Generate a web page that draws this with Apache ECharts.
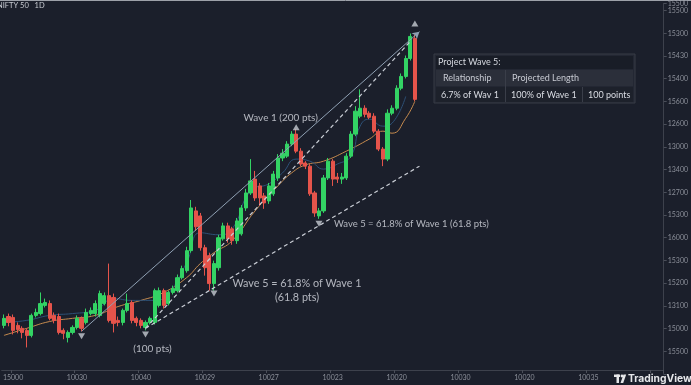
<!DOCTYPE html>
<html><head><meta charset="utf-8">
<script src="https://cdn.jsdelivr.net/npm/echarts@6/dist/echarts.min.js"></script>
<style>html,body{margin:0;padding:0;background:#1b1f2b;overflow:hidden}#c{width:691px;height:385px}</style>
</head><body><div id="c"></div>
<script>
// ---------- data ----------
const categoryCount = 145;
const categories = Array.from({length: categoryCount}, (_, i) => String(i));
const xTickLabels = ['15000','10030','10040','10029','10027','10023','10020','10030','10020','10035'];
const xTickFirst = 2, xTickStep = 14;
// right-axis tick labels, top to bottom
const yTickLabels = ['15500','15300','15430','15400','15600','12600','13000','13400','12700','15300','16000','15300','15200','13100','15000','15500'];
const yTickBase = 14000, yTickStepVal = 100;

const opens = [14114,14153,14149,14114,14101,14092,14070,14158,14166,14202,
14210,14158,14153,14092,14061,14083,14105,14145,14127,14166,
14166,14158,14210,14245,14237,14136,14127,14180,14215,14145,
14136,14105,14127,14127,14202,14267,14210,14259,14267,14324,
14355,14443,14618,14596,14456,14421,14298,14368,14495,14552,
14539,14487,14517,14631,14697,14758,14728,14684,14662,14693,
14763,14851,14859,14912,14956,14881,14829,14815,14697,14596,
14618,14763,14837,14767,14758,14763,14859,14956,15035,15070,
15048,15035,14969,14890,14846,15048,15070,15158,15210,15289,
15377];
const closes = [14145,14127,14092,14096,14083,14070,14158,14171,14210,14215,
14145,14136,14083,14079,14083,14105,14145,14101,14171,14180,
14210,14254,14245,14136,14123,14127,14180,14210,14136,14127,
14114,14127,14145,14267,14267,14202,14259,14276,14324,14364,
14443,14631,14548,14456,14368,14298,14386,14500,14552,14495,
14487,14574,14631,14697,14750,14675,14675,14653,14728,14780,
14851,14872,14912,14956,14881,14824,14815,14693,14609,14618,
14763,14837,14758,14758,14767,14859,14956,15057,15070,15043,
15030,14969,14890,14846,15048,15070,15158,15210,15289,15386,
15109];
const lows = [14101,14110,14074,14079,14057,14017,14061,14149,14158,14193,
14136,14123,14074,14053,14039,14074,14096,14088,14118,14158,
14153,14149,14202,14127,14083,14110,14114,14171,14123,14110,
14101,14092,14118,14118,14193,14188,14202,14250,14259,14316,
14346,14434,14530,14443,14333,14267,14267,14355,14487,14478,
14469,14473,14509,14618,14688,14662,14640,14627,14649,14684,
14750,14837,14851,14903,14872,14815,14802,14684,14592,14583,
14609,14754,14728,14741,14737,14754,14851,14947,15026,15030,
15022,14960,14881,14815,14837,15039,15061,15149,15201,15280,
15101];
const highs = [14162,14166,14162,14127,14110,14101,14166,14188,14259,14232,
14224,14171,14166,14101,14092,14114,14158,14153,14188,14193,
14224,14267,14259,14386,14254,14153,14188,14254,14224,14153,
14145,14136,14153,14276,14281,14276,14267,14289,14338,14377,
14460,14666,14636,14609,14469,14434,14399,14513,14566,14566,
14548,14587,14644,14715,14846,14794,14741,14697,14741,14794,
14868,14890,14925,14969,14978,14894,14837,14824,14706,14631,
14776,14851,14846,14785,14785,14872,14969,15079,15153,15083,
15057,15048,14978,14899,15065,15083,15171,15223,15302,15399,
15394];

// moving averages: [candle index, value]
const slowMA = [[0,14070],[5,14101],[10,14131],[15,14145],[20,14158],[25,14197],[30,14224],[35,14259],[40,14324],[43,14386],[46,14434],[50,14487],[55,14618],[60,14728],[63,14785],[66,14820],[70,14837],[75,14881],[80,14934],[83,14969],[85,14960],[88,15026],[90,15101]];
const fastMA = [[0,14127],[5,14136],[10,14158],[15,14166],[20,14180],[24,14232],[28,14224],[33,14224],[36,14254],[40,14390],[43,14522],[47,14513],[50,14539],[54,14706],[58,14737],[61,14785],[64,14846],[67,14837],[70,14802],[73,14824],[76,14859],[78,14991],[80,15022],[83,14991],[85,15004],[88,15122]];

// trend lines: [startIndex, startValue, endIndex, endValue]
const solidLine = [17,14088,91,15407];
const dashedLines = [[31,14101,89,15364],[31,14101,91,14815]];

// wave markers
const markerIdx = [17,31,46,69,64,90];
const markerVal = [14066,14074,14254,14561,14986,15443];
const markerDown = [true,true,true,true,false,false];
const markerText = ['', '(100 pts)', 'Wave 5 = 61.8% of Wave 1\n(61.8 pts)', 'Wave 5 = 61.8% of Wave 1 (61.8 pts)', 'Wave 1 (200 pts)', ''];

const tableTitle = 'Project Wave 5:';
const tableHeader = ['Relationship', 'Projected Length'];
const tableRow = ['6.7% of Wav 1', '100% of Wave 1', '100 points'];

// ---------- chart ----------
const UP = '#33d364', DOWN = '#e5544b';
const FONT = 'Lato';
const chart = echarts.init(document.getElementById('c'), null, {renderer: 'canvas'});

const candleData = opens.map((o, i) => [o, closes[i], lows[i], highs[i]]);

const labelCfg = [
  null,
  {position: [10.5, 17], align: 'center', verticalAlign: 'middle', fontSize: 10},
  {position: [86.5, 0], align: 'center', verticalAlign: 'middle', lineHeight: 14, fontSize: 10.8},
  {position: [18.5, 3.5], align: 'left', verticalAlign: 'middle', fontSize: 9.5},
  {position: [-12, -7], align: 'center', verticalAlign: 'middle', fontSize: 10},
  null
];
const markerData = markerIdx.map((ix, k) => {
  const item = {value: [ix, markerVal[k]], symbolRotate: markerDown[k] ? 180 : 0};
  if (markerText[k]) {
    item.label = Object.assign({show: true, formatter: markerText[k], color: '#d9dce3', fontFamily: FONT}, labelCfg[k]);
  }
  return item;
});

const tl = [];
tl.push([{coord: [solidLine[0], solidLine[1]], symbol: 'none'},
         {coord: [solidLine[2], solidLine[3]], symbol: 'arrow', symbolSize: [6, 7],
          lineStyle: {color: '#8fa0b3', width: 1, type: 'solid'}}]);
dashedLines.forEach(d => tl.push([{coord: [d[0], d[1]], symbol: 'none'},
         {coord: [d[2], d[3]], symbol: 'none', lineStyle: {color: '#c9cdd5', width: 1.2, type: [4, 3]}}]));

const option = {
  backgroundColor: '#1b1f2b',
  animation: false,
  grid: {left: 0, right: 24, top: 2, bottom: 11},
  xAxis: {
    type: 'category', data: categories, boundaryGap: true, offset: -4,
    axisLine: {lineStyle: {color: '#3d414c'}},
    axisTick: {show: true, length: 3, lineStyle: {color: '#4a4e59'},
      interval: i => i >= xTickFirst && (i - xTickFirst) % xTickStep === 0},
    axisLabel: {color: '#8b8f99', fontSize: 7, fontFamily: FONT, margin: 4,
      interval: i => i >= xTickFirst && (i - xTickFirst) % xTickStep === 0,
      formatter: (v, i) => xTickLabels[(i - xTickFirst) / xTickStep] || ''},
    splitLine: {show: false}
  },
  yAxis: {
    type: 'value', position: 'right', scale: true,
    min: 13900, max: 15531, interval: yTickStepVal,
    axisLine: {show: true, lineStyle: {color: '#3d414c'}},
    axisTick: {show: true, length: 3, lineStyle: {color: '#4a4e59'}},
    axisLabel: {color: '#8b8f99', fontSize: 7, fontFamily: FONT, margin: 4,
      formatter: v => {
        const k = Math.round((v - yTickBase) / yTickStepVal);
        const idx = yTickLabels.length - 1 - k;
        return (k >= 0 && idx >= 0) ? yTickLabels[idx] : '';
      }},
    splitLine: {show: false}
  },
  series: [
    {type: 'line', data: slowMA, smooth: 0.5, showSymbol: false, symbol: 'none',
     lineStyle: {color: '#c58a4e', width: 1}, z: 2},
    {type: 'line', data: fastMA, smooth: 0.5, showSymbol: false, symbol: 'none',
     lineStyle: {color: '#2d5076', width: 1}, z: 2},
    {type: 'candlestick', data: candleData, barWidth: '80%', z: 3,
     itemStyle: {color: UP, color0: DOWN, borderColor: UP, borderColor0: DOWN, borderWidth: 1},
     markLine: {silent: true, animation: false, label: {show: false}, symbol: ['none', 'none'], data: tl}},
    {type: 'scatter', data: markerData, symbol: 'triangle', symbolSize: [7, 6], z: 5,
     itemStyle: {color: '#c6cad2'}}
  ],
  graphic: [
    {type: 'line', shape: {x1: 0, y1: 0.5, x2: 691, y2: 0.5}, style: {stroke: '#9da1a9', lineWidth: 1}, silent: true},
    {type: 'text', left: -3, top: 2, style: {text: 'NIFTY 50   1D', fill: '#c7cad1', font: '7.5px Lato'}},
    // table panel
    {type: 'rect', shape: {x: 434, y: 54, width: 201, height: 49}, style: {fill: '#232733', stroke: '#383c47', lineWidth: 1}},
    {type: 'rect', shape: {x: 436, y: 56, width: 197, height: 13}, style: {fill: '#191d27'}},
    {type: 'rect', shape: {x: 436, y: 70, width: 197, height: 16}, style: {fill: '#2b2f3a'}},
    {type: 'rect', shape: {x: 436, y: 87, width: 197, height: 15}, style: {fill: '#1d212b'}},
    {type: 'line', shape: {x1: 505.5, y1: 70, x2: 505.5, y2: 102}, style: {stroke: '#3a3e49', lineWidth: 1}},
    {type: 'line', shape: {x1: 582.5, y1: 87, x2: 582.5, y2: 102}, style: {stroke: '#3a3e49', lineWidth: 1}},
    {type: 'text', x: 438, y: 62.5, style: {text: tableTitle, fill: '#d5d8df', font: '9px Lato', verticalAlign: 'middle'}},
    {type: 'text', x: 443, y: 78, style: {text: tableHeader[0], fill: '#c7cad2', font: '9px Lato', verticalAlign: 'middle'}},
    {type: 'text', x: 512, y: 78, style: {text: tableHeader[1], fill: '#c7cad2', font: '9px Lato', verticalAlign: 'middle'}},
    {type: 'text', x: 441, y: 95, style: {text: tableRow[0], fill: '#d9dce3', font: '9px Lato', verticalAlign: 'middle'}},
    {type: 'text', x: 511, y: 95, style: {text: tableRow[1], fill: '#d9dce3', font: '9px Lato', verticalAlign: 'middle'}},
    {type: 'text', x: 588, y: 95, style: {text: tableRow[2], fill: '#d9dce3', font: '9px Lato', verticalAlign: 'middle'}},
    // TradingView logo
    {type: 'rect', shape: {x: 614, y: 374.5, width: 6, height: 2.5}, style: {fill: '#e6e7ea'}},
    {type: 'rect', shape: {x: 616.5, y: 374.5, width: 2.5, height: 8.5}, style: {fill: '#e6e7ea'}},
    {type: 'circle', shape: {cx: 622, cy: 376, r: 1.4}, style: {fill: '#e6e7ea'}},
    {type: 'polygon', shape: {points: [[620.5, 383], [623.5, 374.5], [626.2, 374.5], [623.2, 383]]}, style: {fill: '#e6e7ea'}},
    {type: 'text', x: 628, y: 379, style: {text: 'TradingView', fill: '#e6e7ea', font: 'bold 10.3px Inter', verticalAlign: 'middle'}}
  ]
};
chart.setOption(option);
</script>
</body></html>
